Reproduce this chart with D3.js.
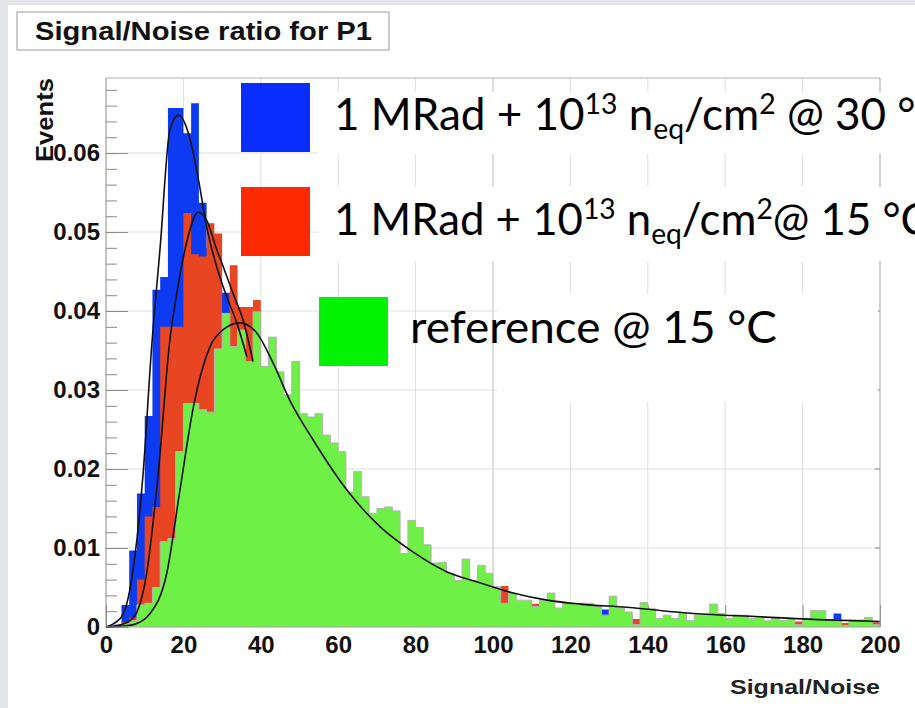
<!DOCTYPE html>
<html><head><meta charset="utf-8">
<script src="https://cdn.jsdelivr.net/npm/d3@7"></script>
<style>body{margin:0;background:#fff}svg{display:block}</style>
</head><body>
<svg id="c" width="915" height="708"></svg>
<script>
// ---------------- data ----------------
const binWidth = 2;            // Signal/Noise units per bin
const xDomain = [0, 200];
const yDomain = [0, 0.0695];
const xTicks = [0,20,40,60,80,100,120,140,160,180,200];
const xTickLabels = ["0","20","40","60","80","100","120","140","160","180","200"];
const yTicks = [0,0.01,0.02,0.03,0.04,0.05,0.06];
const yTickLabels = ["0","0.01","0.02","0.03","0.04","0.05","0.06"];
const yMinorTicks = d3.range(0, 0.0695, 0.002);

// 1 MRad + 1e13 neq/cm2 @ 30 C
const blue30 = [0,0.0003,0.0028,0.0097,0.0169,0.0267,0.0427,0.0443,0.0657,0.0657,
0.0625,0.0663,0.0537,0.0480,0.0440,0.0423,0.0400,0.0360,0.0300,0.0310,
0.0280,0.0270,0.0250,0.0220,0.0210,0.0190,0.0180,0.0160,0.0150,0.0130,
0.0120,0.0110,0.0100,0.0090,0.0090,0.0080,0.0070,0.0070,0.0060,0.0060,
0.0050,0.0050,0.0045,0.0040,0.0040,0.0035,0.0035,0.0030,0.0030,0.0030,
0.0028,0.0025,0.0025,0.0022,0.0022,0.0020,0.0020,0.0020,0.0018,0.0018,
0.0018,0.0016,0.0016,0.0015,0.0022,0.0015,0.0014,0.0012,0.0009,0.0012,
0.0012,0.0010,0.0010,0.0010,0.0009,0.0007,0.0009,0.0009,0.0008,0.0008,
0.0008,0.0008,0.0007,0.0007,0.0007,0.0006,0.0006,0.0006,0.0006,0.0002,
0.0006,0.0006,0.0005,0.0005,0.0017,0.0001,0.0005,0.0005,0.0005,0.0002];

// 1 MRad + 1e13 neq/cm2 @ 15 C
const red15 = [0,0.0002,0.0006,0.0012,0.0060,0.0140,0.0152,0.0380,0.0380,0.0380,
0.0524,0.0472,0.0469,0.0511,0.0498,0.0350,0.0458,0.0405,0.0405,0.0414,
0.0310,0.0300,0.0290,0.0270,0.0260,0.0240,0.0230,0.0220,0.0200,0.0190,
0.0180,0.0160,0.0150,0.0140,0.0130,0.0120,0.0110,0.0110,0.0085,0.0090,
0.0080,0.0080,0.0070,0.0070,0.0060,0.0055,0.0050,0.0050,0.0045,0.0040,
0.0040,0.0052,0.0035,0.0030,0.0030,0.0029,0.0028,0.0027,0.0022,0.0022,
0.0020,0.0020,0.0020,0.0018,0.0014,0.0018,0.0016,0.0015,0.0010,0.0014,
0.0013,0.0009,0.0012,0.0009,0.0012,0.0006,0.0011,0.0011,0.0010,0.0010,
0.0009,0.0009,0.0009,0.0008,0.0008,0.0006,0.0008,0.0006,0.0007,0.0007,
0.0007,0.0007,0.0007,0.0006,0.0006,0.0005,0.0006,0.0006,0.0006,0.0006];

// reference @ 15 C
const ref15 = [0,0.0001,0.0004,0.0008,0.0028,0.0030,0.0050,0.0108,0.0112,0.0222,
0.0283,0.0283,0.0275,0.0272,0.0352,0.0397,0.0355,0.0376,0.0336,0.0399,
0.0330,0.0367,0.0323,0.0294,0.0336,0.0270,0.0266,0.0270,0.0243,0.0233,
0.0222,0.0171,0.0197,0.0165,0.0144,0.0150,0.0152,0.0147,0.0093,0.0135,
0.0126,0.0104,0.0081,0.0082,0.0068,0.0059,0.0086,0.0059,0.0078,0.0068,
0.0051,0.0030,0.0043,0.0034,0.0034,0.0026,0.0034,0.0043,0.0024,0.0030,
0.0030,0.0030,0.0030,0.0026,0.0015,0.0039,0.0024,0.0019,0.0003,0.0031,
0.0023,0.0011,0.0015,0.0011,0.0017,0.0008,0.0015,0.0015,0.0029,0.0017,
0.0011,0.0015,0.0015,0.0011,0.0013,0.0008,0.0011,0.0008,0.0010,0.0003,
0.0011,0.0021,0.0021,0.0009,0.0009,0.0002,0.0009,0.0009,0.0012,0.0003];

// fitted curves as (S/N, Events)
const fitBlue = [[0,0],[1.9,0.0004],[4.5,0.0017],[7.1,0.0076],[9.6,0.0195],[11.8,0.0355],
[14,0.0481],[16.5,0.0629],[18.7,0.0648],[21.3,0.0625],[23.9,0.0566],[26,0.0507],
[28.6,0.0456],[31.2,0.0418],[33.8,0.0385],[36.4,0.0342]];
const fitRed = [[0,0],[4,0.0003],[7.1,0.0012],[10.5,0.0068],[13.5,0.0195],[16.5,0.0363],
[18.3,0.0423],[20.8,0.0486],[23.8,0.0525],[26,0.0515],[28.6,0.0478],[30.3,0.0456],
[33,0.0420],[35.4,0.0389],[38,0.0336]];
const fitRef = [[0,0],[4,0.0001],[7.1,0.0003],[11.4,0.0017],[15.7,0.0068],[19.1,0.0173],
[22.6,0.0279],[26.9,0.0355],[30.2,0.0376],[34.6,0.0385],[39,0.0372],[43.2,0.0334],
[47.5,0.0287],[53.5,0.0237],[62.3,0.0173],[70.8,0.0127],[79.3,0.0095],[88,0.0070],
[96.6,0.0056],[105.2,0.0043],[114,0.0034],[122.5,0.0029],[134.6,0.0025],[151.8,0.0017],
[169,0.0013],[186,0.0009],[200,0.0007]];

const titleText = "Signal/Noise ratio for P1";
const xTitle = "Signal/Noise";
const yTitle = "Events";
const legend1 = [["1 MRad + 10","n"],["13","sup"],[" n","n"],["eq","sub"],["/cm","n"],["2","sup"],[" @ 30 °C","n"]];
const legend2 = [["1 MRad + 10","n"],["13","sup"],[" n","n"],["eq","sub"],["/cm","n"],["2","sup"],["@ 15 °C","n"]];
const legend3 = [["reference @ 15 °C","n"]];

// ---------------- drawing ----------------
const svg = d3.select("#c");
svg.append("rect").attr("width",915).attr("height",708).attr("fill","#e3e5e9");
svg.append("rect").attr("x",8).attr("y",5).attr("width",907).attr("height",703).attr("fill","#ffffff");

const L=106, R=880, T=78, B=627;
const x = d3.scaleLinear().domain(xDomain).range([L,R]);
const y = d3.scaleLinear().domain(yDomain).range([B,T]);

// grid
const grid = svg.append("g");
grid.selectAll("line.v").data(xTicks.slice(1,-1)).join("line")
  .attr("x1",d=>x(d)).attr("x2",d=>x(d)).attr("y1",T).attr("y2",B)
  .attr("stroke",d=>d===100?"#bdbdbd":"#dedede").attr("stroke-width",1);
grid.selectAll("line.h").data(yTicks.slice(1)).join("line")
  .attr("x1",L).attr("x2",R).attr("y1",d=>y(d)).attr("y2",d=>y(d))
  .attr("stroke","#dedede").attr("stroke-width",1);

// axes
const fontTick = "'Liberation Sans', Arial, sans-serif";
const gyMinor = svg.append("g").attr("transform",`translate(${L},0)`)
  .call(d3.axisLeft(y).tickValues(yMinorTicks).tickSize(-11).tickFormat(""));
const gy = svg.append("g").attr("transform",`translate(${L},0)`)
  .call(d3.axisLeft(y).tickValues(yTicks).tickSize(-22).tickPadding(6).tickFormat((d,i)=>yTickLabels[i]));
const gx = svg.append("g").attr("transform",`translate(0,${B})`)
  .call(d3.axisBottom(x).tickValues(xTicks).tickSize(-22).tickPadding(9).tickFormat((d,i)=>xTickLabels[i]));
[gy,gx,gyMinor].forEach(g=>{
  g.select(".domain").remove();
  g.selectAll(".tick line").attr("stroke","#8a8a8a");
  g.selectAll("text").attr("font-family",fontTick).attr("font-weight","bold").attr("font-size",24).attr("fill","#111");
});
// right-side small ticks
svg.append("g").selectAll("line").data(yTicks.slice(1)).join("line")
  .attr("x1",R-5).attr("x2",R).attr("y1",d=>y(d)).attr("y2",d=>y(d)).attr("stroke","#8a8a8a");

// histograms
function stepData(arr){ const d = arr.map((v,i)=>[i*binWidth, v]); d.push([arr.length*binWidth, arr[arr.length-1]]); return d; }
const area = d3.area().curve(d3.curveStepAfter).x(d=>x(d[0])).y0(y(0)).y1(d=>y(d[1]));
const stepLine = d3.line().curve(d3.curveStepAfter).x(d=>x(d[0])).y(d=>y(d[1]));
svg.append("path").datum(stepData(blue30)).attr("d",area).attr("fill","#0c3bf2");
svg.append("path").datum(stepData(red15)).attr("fill","#e84522").attr("d",area);
svg.append("path").datum(stepData(ref15)).attr("fill","#6ff046").attr("d",area);
svg.append("path").datum(stepData(ref15)).attr("fill","none").attr("stroke","#b4b4b4").attr("stroke-width",1).attr("d",stepLine);

// fits
const fitLine = d3.line().curve(d3.curveMonotoneX).x(d=>x(d[0])).y(d=>y(d[1]));
[fitBlue, fitRed, fitRef].forEach(f=>{
  svg.append("path").datum(f).attr("d",fitLine).attr("fill","none").attr("stroke","#111").attr("stroke-width",1.6);
});

// frame
svg.append("line").attr("x1",L).attr("x2",L).attr("y1",T).attr("y2",B).attr("stroke","#8a8a8a");
svg.append("line").attr("x1",L).attr("x2",R).attr("y1",B).attr("y2",B).attr("stroke","#a0a0a0");
svg.append("line").attr("x1",L).attr("x2",R).attr("y1",T).attr("y2",T).attr("stroke","#b0b0b0");
svg.append("line").attr("x1",R).attr("x2",R).attr("y1",T).attr("y2",B).attr("stroke","#a0a0a0");

// axis titles
svg.append("text").attr("transform",`translate(53,${T}) rotate(-90)`).attr("text-anchor","end")
  .attr("font-family",fontTick).attr("font-weight","bold").attr("font-size",23)
  .attr("textLength",84).attr("lengthAdjust","spacingAndGlyphs").attr("fill","#111").text(yTitle);
svg.append("text").attr("x",R).attr("y",694).attr("text-anchor","end")
  .attr("font-family",fontTick).attr("font-weight","bold").attr("font-size",21)
  .attr("textLength",150).attr("lengthAdjust","spacingAndGlyphs")
  .attr("fill","#222").text(xTitle);

// title box
svg.append("rect").attr("x",17).attr("y",12).attr("width",372).attr("height",38)
  .attr("fill","#fff").attr("stroke","#9a9a9a");
svg.append("text").attr("x",35).attr("y",40).attr("font-family",fontTick).attr("font-weight","bold")
  .attr("font-size",26).attr("textLength",337).attr("lengthAdjust","spacingAndGlyphs").attr("fill","#111").text(titleText);

// legend
const lg = svg.append("g");
lg.append("rect").attr("x",318).attr("y",92).attr("width",597).attr("height",62).attr("fill","#fff");
lg.append("rect").attr("x",318).attr("y",187).attr("width",597).attr("height",74).attr("fill","#fff");
lg.append("rect").attr("x",497).attr("y",294).attr("width",381).attr("height",108).attr("fill","#fff");
lg.append("rect").attr("x",241).attr("y",83).attr("width",69).attr("height",69).attr("fill","#0a2dff");
lg.append("rect").attr("x",241).attr("y",187).attr("width",69).attr("height",69).attr("fill","#ff2a00");
lg.append("rect").attr("x",319).attr("y",297).attr("width",69).attr("height",69).attr("fill","#00f300");

const legFont = "Lato, 'Open Sans', sans-serif";
function legendText(segs, x0, base, width){
  const g = lg.append("g");
  const t = g.append("text").attr("font-family",legFont).attr("font-size",45).attr("fill","#000");
  let cur = 0;
  segs.forEach(([s,kind])=>{
    const target = kind==="sup" ? -16 : kind==="sub" ? 9 : 0;
    t.append("tspan").text(s).attr("dy", target-cur).attr("font-size", kind==="n"?45:29);
    cur = target;
  });
  const w = t.node().getBBox().width;
  g.attr("transform",`translate(${x0},${base}) scale(${width/w},1)`);
}
legendText(legend1, 334, 130, 611);
legendText(legend2, 334, 235, 596);
legendText(legend3, 410, 343, 367);
</script>
</body></html>
